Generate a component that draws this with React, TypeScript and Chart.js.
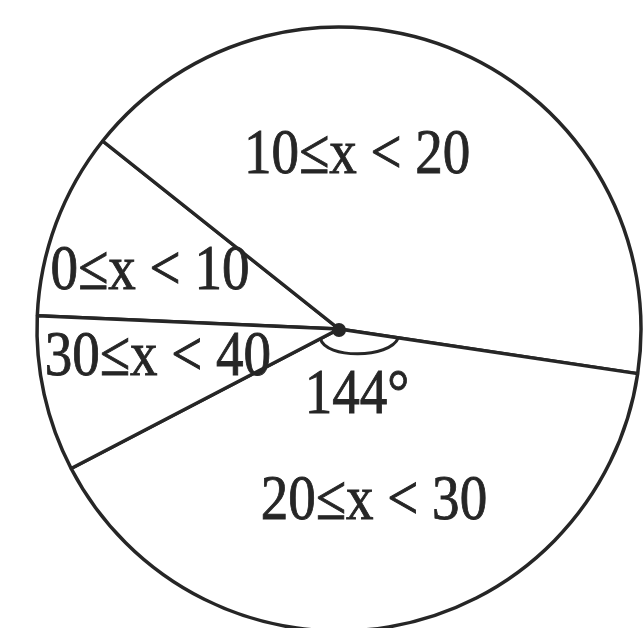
import { useEffect, useRef } from "react";
import { Chart, registerables } from "chart.js";

Chart.register(...registerables);

// Class intervals and the angle (in degrees) of each sector
const classLabels = ["0≤x < 10", "10≤x < 20", "20≤x < 30", "30≤x < 40"];
const sectorDegrees = [36, 150, 144, 30];
// Sector whose angle is marked at the centre
const markedClass = 2;

// Label placement: direction (degrees clockwise from 12 o'clock) and distance as a share of the radius
const labelDirections = [288, 5.8, 168.3, 262.4];
const labelDistances = [0.658, 0.592, 0.571, 0.605];
const angleLabelDirection = 163.8;
const angleLabelDistance = 0.214;

const INK = "#262626";
const TEXT = "#262626";
const FONT_SIZE = 64;
const TEXT_SQUEEZE = 0.86;

const labelPlugin = {
  id: "sectorLabels",
  afterDatasetsDraw(chart: any) {
    const meta = chart.getDatasetMeta(0);
    const first = meta.data[0];
    const { x: cx, y: cy, outerRadius } = first.getProps(["x", "y", "outerRadius"], true);
    const ctx: CanvasRenderingContext2D = chart.ctx;
    const halfDigit = FONT_SIZE * 0.338;

    const put = (text: string, dirDeg: number, frac: number) => {
      const a = ((dirDeg - 90) * Math.PI) / 180;
      const x = cx + Math.cos(a) * frac * outerRadius;
      const y = cy + Math.sin(a) * frac * outerRadius + halfDigit;
      ctx.save();
      ctx.translate(x, y);
      ctx.scale(TEXT_SQUEEZE, 1);
      ctx.fillText(text, 0, 0);
      ctx.strokeText(text, 0, 0);
      ctx.restore();
    };

    ctx.save();
    // angle marker for the marked sector
    const marked = meta.data[markedClass];
    const { startAngle, endAngle } = marked.getProps(["startAngle", "endAngle"], true);
    const p0x = cx + Math.cos(endAngle) * 21;
    const p0y = cy + Math.sin(endAngle) * 21;
    const p3x = cx + Math.cos(startAngle) * 60;
    const p3y = cy + Math.sin(startAngle) * 60;
    ctx.strokeStyle = INK;
    ctx.lineWidth = 3;
    ctx.beginPath();
    ctx.moveTo(p0x, p0y);
    ctx.bezierCurveTo(p0x + 5, cy + 30, p3x - 9, cy + 30, p3x, p3y);
    ctx.stroke();

    // centre point
    ctx.fillStyle = INK;
    ctx.beginPath();
    ctx.arc(cx, cy + 1, 7, 0, Math.PI * 2);
    ctx.fill();

    ctx.fillStyle = TEXT;
    ctx.strokeStyle = TEXT;
    ctx.lineWidth = 0.9;
    ctx.font = `${FONT_SIZE}px "Liberation Serif", "Times New Roman", serif`;
    ctx.textAlign = "center";
    ctx.textBaseline = "alphabetic";
    classLabels.forEach((label, i) => put(label, labelDirections[i], labelDistances[i]));
    put(`${sectorDegrees[markedClass]}°`, angleLabelDirection, angleLabelDistance);
    ctx.restore();
  },
};

export default function App() {
  const canvasRef = useRef<HTMLCanvasElement>(null);

  useEffect(() => {
    const canvas = canvasRef.current;
    if (!canvas) return;
    const chart = new Chart(canvas, {
      type: "pie",
      data: {
        labels: classLabels,
        datasets: [
          {
            data: sectorDegrees,
            backgroundColor: "#ffffff",
            borderColor: INK,
            borderWidth: 3.5,
            clip: false,
          } as any,
        ],
      },
      options: {
        responsive: false,
        animation: false,
        rotation: 272.5,
        radius: 302,
        layout: { padding: { left: 34, top: 30, right: 0, bottom: 0 } },
        plugins: {
          legend: { display: false },
          tooltip: { enabled: false },
        },
      } as any,
      plugins: [labelPlugin],
    });
    return () => chart.destroy();
  }, []);

  return (
    <div style={{ position: "fixed", left: 0, top: 0, width: 644, height: 628, background: "#ffffff" }}>
      <canvas ref={canvasRef} width={644} height={628} style={{ display: "block" }} />
    </div>
  );
}
